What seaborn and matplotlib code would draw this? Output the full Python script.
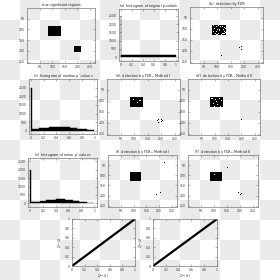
import numpy as np
import pandas as pd
import matplotlib
matplotlib.use("Agg")
import matplotlib.pyplot as plt
from matplotlib.colors import ListedColormap
import seaborn as sns

# ---------------- data ----------------
NROWS, NCOLS = 256, 270
img_ticks = [50, 100, 150, 200, 250]

# rectangles: (col0, col1, row0, row1)
true_rects = [(85, 135, 85, 130), (185, 215, 178, 205)]

fdr_rects = [(82, 134, 80, 130)]
fdr_holes = [(86, 84), (95, 88), (104, 83), (118, 86), (126, 90), (90, 96), (100, 99),
             (112, 94), (122, 100), (130, 97), (85, 108), (96, 110), (108, 106),
             (117, 112), (127, 109), (92, 120), (103, 118), (114, 124), (124, 121),
             (88, 127), (110, 88), (120, 118), (98, 125), (131, 114), (106, 100)]
fdr_points = [(183, 183), (190, 178), (197, 186), (188, 193), (194, 199),
              (15, 150), (115, 220), (240, 40), (30, 240)]

d1_rects = [(85, 132, 82, 130)]
d1_holes = [(95, 90), (110, 105), (120, 95)]
d1_points = [(186, 188), (190, 184), (195, 181), (201, 183), (204, 188), (200, 193),
             (193, 195), (188, 197), (196, 190), (183, 195), (20, 150)]

d2_rects = [(82, 133, 83, 130)]
d2_holes = [(88, 88), (100, 92), (115, 86), (125, 98), (92, 110), (108, 115),
            (120, 122), (96, 124), (130, 108), (104, 100)]
d2_points = [(186, 190), (192, 186), (200, 184), (196, 195)]

f1_rects = [(85, 130, 85, 128)]
f1_holes = []
f1_points = [(185, 185), (190, 182), (197, 180), (203, 184), (205, 190), (199, 195),
             (192, 196), (187, 193), (220, 35), (70, 235)]

f2_rects = [(85, 130, 85, 128)]
f2_holes = [(100, 95)]
f2_points = [(186, 186), (192, 183), (199, 182), (204, 187), (200, 194), (191, 195),
             (150, 60), (60, 235)]

# histograms: first narrow bin (spike) then 33 regular bins over (0.01, 1]
hist_orig = [2500, 165, 170, 163, 167, 165, 164, 168, 166, 165, 163, 167, 165, 166,
             164, 168, 165, 163, 166, 167, 165, 164, 166, 168, 165, 163, 167, 165,
             166, 164, 165, 167, 163, 166]
hist_median = [2500, 90, 100, 110, 125, 140, 155, 165, 180, 190, 200, 208, 215, 220,
               222, 224, 222, 218, 212, 205, 196, 186, 175, 163, 150, 137, 123, 110,
               96, 82, 70, 58, 46, 36]
hist_mean = [2000, 50, 62, 75, 90, 105, 122, 138, 155, 170, 185, 200, 212, 222, 230,
             236, 238, 236, 230, 220, 208, 194, 178, 160, 142, 124, 106, 88, 70,
             54, 40, 28, 16, 8]
hist_yticks = [0, 500, 1000, 1500, 2000, 2500]
p_ticks = [0, 0.2, 0.4, 0.6, 0.8, 1]
p_ticklabels = ["0", "0.2", "0.4", "0.6", "0.8", "1"]

qq_t = [0.0, 1.0]
qq_left = [0.0, 1.0]
qq_right = [0.0, 1.0]

# ---------------- style ----------------
sns.set_theme(style="white")
plt.rcParams["font.family"] = ["DejaVu Sans"]
plt.rcParams["axes.facecolor"] = "none"

W = H = 280
fig = plt.figure(figsize=(2.8, 2.8), dpi=100)
fig.patch.set_alpha(0)

# checkerboard background (transparency preview)
yy, xx = np.mgrid[0:H, 0:W]
board = ((xx // 20 + yy // 20) % 2 == 1)
bg = np.where(board[..., None], 0.92, 1.0) * np.ones((H, W, 3))
fig.figimage(bg, xo=0, yo=0, origin="upper", zorder=-10)

FRAME = "#7a7a7a"
TFS = 2.2
LFS = 2.4


def add_ax(x0, y0, x1, y1):
    return fig.add_axes([x0 / W, 1 - y1 / H, (x1 - x0) / W, (y1 - y0) / H])


def style(ax):
    for s in ax.spines.values():
        s.set_visible(True)
        s.set_color(FRAME)
        s.set_linewidth(0.5)
    ax.tick_params(direction="in", length=1.2, width=0.4, color=FRAME,
                   labelsize=TFS, pad=1.5, labelcolor="#333333",
                   top=True, right=True, bottom=True, left=True)
    ax.set_facecolor("none")


def make_mask(rects, holes, points):
    m = np.zeros((NROWS, NCOLS))
    for c0, c1, r0, r1 in rects:
        m[r0:r1, c0:c1] = 1
    for c, r in holes:
        m[r:r + 4, c:c + 4] = 0
    for c, r in points:
        m[r:r + 3, c:c + 3] = 1
    return m


def image_panel(pos, mat, title):
    ax = add_ax(*pos)
    sns.heatmap(mat, mask=(mat == 0), cmap=ListedColormap(["black"]), cbar=False,
                xticklabels=False, yticklabels=False, ax=ax, rasterized=True)
    ax.set_xticks(img_ticks)
    ax.set_xticklabels([str(t) for t in img_ticks])
    ax.set_yticks(img_ticks)
    ax.set_yticklabels([str(t) for t in img_ticks], rotation=0)
    style(ax)
    ax.set_title(title, fontsize=LFS, pad=1.5, color="#222222")
    return ax


edges = [0.0] + list(np.linspace(0.01, 1.0, 34))
centers = [(a + b) / 2 for a, b in zip(edges[:-1], edges[1:])]


def hist_panel(pos, counts, title, ylim):
    ax = add_ax(*pos)
    df = pd.DataFrame({"p": centers, "n": counts})
    sns.histplot(data=df, x="p", weights="n", bins=edges, ax=ax, color="black",
                 edgecolor="black", linewidth=0.3, alpha=1.0)
    ax.set_xlim(-0.03, 1.04)
    ax.set_ylim(*ylim)
    ax.set_xticks(p_ticks)
    ax.set_xticklabels(p_ticklabels)
    ax.set_yticks(hist_yticks)
    ax.set_yticklabels([str(t) for t in hist_yticks])
    ax.set_xlabel("")
    ax.set_ylabel("")
    style(ax)
    ax.set_title(title, fontsize=LFS, pad=1.5, color="#222222")
    return ax


image_panel((27, 8, 95, 63), make_mask(true_rects, [], []), "true significant regions")
hist_panel((119, 9, 178, 61), hist_orig, "(a)  histogram of original $p$-values", (-220, 2900))
image_panel((190, 7, 263, 63), make_mask(fdr_rects, fdr_holes, fdr_points), "(b)  detection by FDR")

hist_panel((29, 79, 97, 134), hist_median, "(c)  histogram of median $p^c$-values", (-180, 3000))
image_panel((107, 79, 180, 135), make_mask(d1_rects, d1_holes, d1_points), "(d)  detection by FDR$_c$, Method I")
image_panel((188, 79, 260, 135), make_mask(d2_rects, d2_holes, d2_points), "(d')  detection by FDR$_c$, Method II")

hist_panel((28, 158, 97, 207), hist_mean, "(e)  histogram of mean $p^c$-values", (-220, 2700))
image_panel((108, 155, 177, 207), make_mask(f1_rects, f1_holes, f1_points), "(f)  detection by FDR$_{\\bar c}$, Method I")
image_panel((188, 155, 258, 207), make_mask(f2_rects, f2_holes, f2_points), "(f')  detection by FDR$_{\\bar c}$, Method II")

for pos, yv in [((72, 219, 135, 266), qq_left), ((153, 219, 217, 266), qq_right)]:
    ax = add_ax(*pos)
    sns.lineplot(x=qq_t, y=yv, ax=ax, color="black", linewidth=1.6)
    ax.set_xlim(0, 1)
    ax.set_ylim(0, 1)
    ax.set_xticks(p_ticks)
    ax.set_xticklabels(p_ticklabels)
    ax.set_yticks(p_ticks)
    ax.set_yticklabels(p_ticklabels)
    style(ax)
    ax.set_xlabel("$Q^{-1}(t)$", fontsize=LFS, labelpad=0.3, color="#333333")
    ax.set_ylabel("$\\hat{Q}^{-1}(t)$", fontsize=LFS, labelpad=0.5, color="#333333")

fig.savefig("out.png", dpi=100)
